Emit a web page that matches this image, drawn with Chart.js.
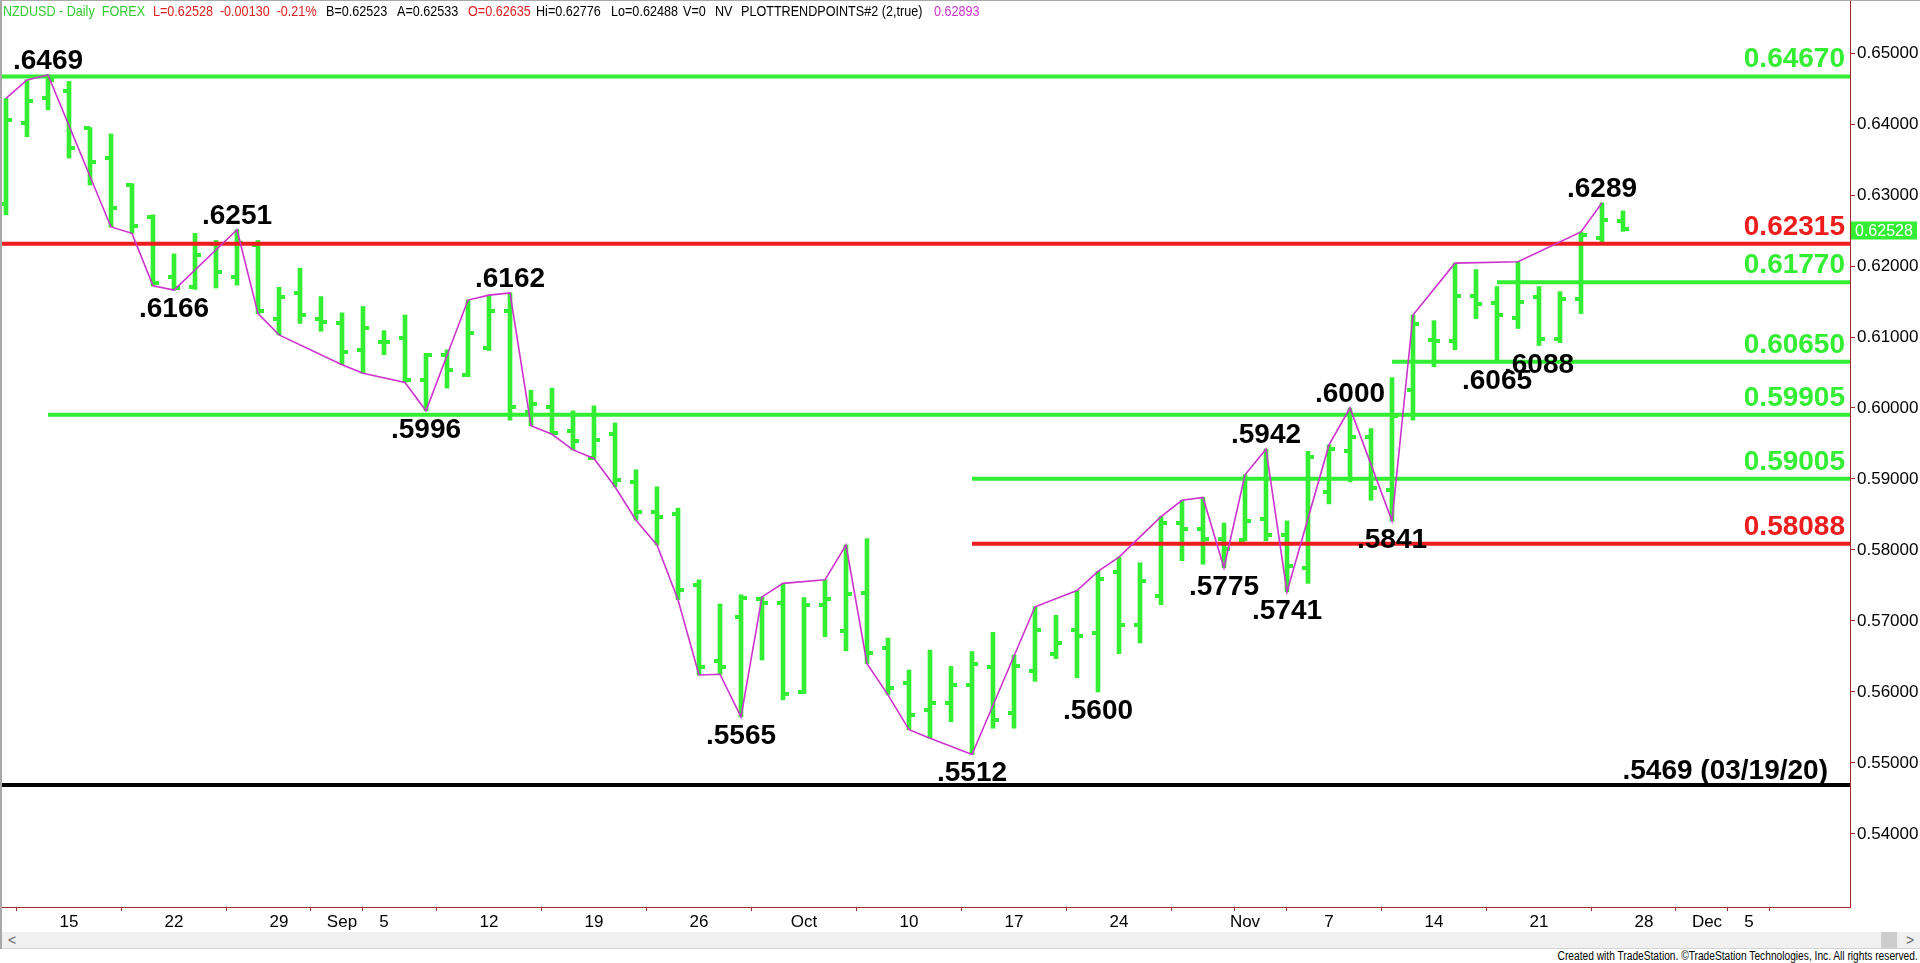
<!DOCTYPE html>
<html>
<head>
<meta charset="utf-8">
<title>NZDUSD Daily</title>
<script src="https://cdn.jsdelivr.net/npm/chart.js@4.4.1/dist/chart.umd.min.js"></script>
<style>
  html, body { margin: 0; padding: 0; background: #fff; }
  body { width: 1920px; height: 963px; position: relative; overflow: hidden;
         font-family: 'Liberation Sans', Arial, sans-serif; }
  #wrap { position: absolute; left: 0; top: 0; width: 1920px; height: 930px; }
  #frame { position: absolute; left: 0; top: 0; width: 1918px; height: 948px;
           border-left: 2px solid #a8a8a8; border-top: 1px solid #a8a8a8; pointer-events: none; }
  #header { position: absolute; left: 0; top: 2px; height: 18px; font-size: 15px; line-height: 18px; white-space: nowrap; }
  #header span { position: absolute; top: 0; transform: scaleX(0.84); transform-origin: 0 50%; }
  #scroll { position: absolute; left: 2px; top: 932px; width: 1918px; height: 16px; background: #f0f0f0;
            border-bottom: 1px solid #d4d4d4; color: #666; font-size: 14px; line-height: 16px; }
  #scroll .thumb { position: absolute; left: 1879px; top: 0; width: 16px; height: 16px; background: #cdcdcd; }
  #footer { position: absolute; right: 2px; top: 950px; font-size: 12px; line-height: 13px; color: #000;
            white-space: nowrap; transform: scaleX(0.85); transform-origin: 100% 50%; }
</style>
</head>
<body>
<div id="wrap"><canvas id="chart"></canvas></div>
<div id="header">
  <span style="left:3px;color:#33cc33">NZDUSD - Daily&nbsp; FOREX</span>
  <span style="left:153px;color:#dd2020">L=0.62528&nbsp; -0.00130&nbsp; -0.21%</span>
  <span style="left:326px">B=0.62523</span>
  <span style="left:397px">A=0.62533</span>
  <span style="left:468px;color:#dd2020">O=0.62635</span>
  <span style="left:536px">Hi=0.62776</span>
  <span style="left:611px">Lo=0.62488</span>
  <span style="left:683px">V=0</span>
  <span style="left:715px">NV</span>
  <span style="left:741px">PLOTTRENDPOINTS#2 (2,true)</span>
  <span style="left:934px;color:#cc33cc">0.62893</span>
</div>
<div id="scroll"><span style="position:absolute;left:6px">&lt;</span><div class="thumb"></div><span style="position:absolute;left:1904px">&gt;</span></div>
<div id="footer">Created with TradeStation. ©TradeStation Technologies, Inc. All rights reserved.</div>
<div id="frame"></div>
<script>
// x = trading day counted from Wed 10 Aug 2022 (day 0)
const opens = [0.6288, 0.6401, 0.6436, 0.6446, 0.6394, 0.6352, 0.6314, 0.6269, 0.6185, 0.6171,
  0.6231, 0.6185, 0.6230, 0.6125, 0.6162, 0.6125, 0.6120, 0.6082, 0.6093, 0.6098,
  0.6039, 0.6075, 0.6047, 0.6084, 0.6137, 0.5995, 0.6001, 0.5967, 0.5930, 0.5963,
  0.5896, 0.5853, 0.5850, 0.5751, 0.5643, 0.5706, 0.5731, 0.5725, 0.5600, 0.5723,
  0.5686, 0.5740, 0.5662, 0.5613, 0.5574, 0.5584, 0.5610, 0.5635, 0.5571, 0.5629,
  0.5653, 0.5687, 0.5683, 0.5769, 0.5695, 0.5735, 0.5838, 0.5829, 0.5815, 0.5814,
  0.5843, 0.5821, 0.5774, 0.5881, 0.5939, 0.5959, 0.5885, 0.6026, 0.6096, 0.6095,
  0.6158, 0.6148, 0.6127, 0.6157, 0.6097, 0.6153, 0.6240, 0.62635];
const highs = [0.6436, 0.6462, 0.6469, 0.6460, 0.6395, 0.6386, 0.6316, 0.6272, 0.6217, 0.6246,
  0.6236, 0.6251, 0.6236, 0.6170, 0.6197, 0.6157, 0.6134, 0.6143, 0.6109, 0.6131,
  0.6077, 0.6082, 0.6152, 0.6159, 0.6162, 0.6025, 0.6028, 0.5996, 0.6003, 0.5979,
  0.5913, 0.5889, 0.5859, 0.5758, 0.5724, 0.5737, 0.5734, 0.5753, 0.5733, 0.5758,
  0.5807, 0.5816, 0.5676, 0.5631, 0.5659, 0.5636, 0.5657, 0.5684, 0.5652, 0.5720,
  0.5708, 0.5743, 0.5770, 0.5790, 0.5782, 0.5847, 0.5870, 0.5874, 0.5838, 0.5906,
  0.5942, 0.5841, 0.5939, 0.5948, 0.6000, 0.5971, 0.6043, 0.6131, 0.6123, 0.6204,
  0.6195, 0.6171, 0.6206, 0.6171, 0.6164, 0.6248, 0.6289, 0.62776];
const lows = [0.6272, 0.6382, 0.6420, 0.6352, 0.6314, 0.6255, 0.6246, 0.6172, 0.6166, 0.6167,
  0.6169, 0.6173, 0.6133, 0.6103, 0.6119, 0.6108, 0.6061, 0.6049, 0.6075, 0.6036,
  0.5996, 0.6028, 0.6044, 0.6081, 0.5983, 0.5975, 0.5963, 0.5941, 0.5929, 0.5889,
  0.5842, 0.5807, 0.5730, 0.5624, 0.5625, 0.5565, 0.5645, 0.5589, 0.5598, 0.5678,
  0.5658, 0.5640, 0.5596, 0.5547, 0.5535, 0.5558, 0.5512, 0.5549, 0.5549, 0.5615,
  0.5647, 0.5620, 0.5600, 0.5654, 0.5669, 0.5723, 0.5785, 0.5780, 0.5775, 0.5813,
  0.5813, 0.5741, 0.5753, 0.5865, 0.5896, 0.5870, 0.5841, 0.5983, 0.6058, 0.6082,
  0.6126, 0.6065, 0.6112, 0.6088, 0.6092, 0.6133, 0.6234, 0.62488];
const closes = [0.6406, 0.6432, 0.6462, 0.6366, 0.6346, 0.6281, 0.6256, 0.6176, 0.6169, 0.6215,
  0.6191, 0.6232, 0.6136, 0.6157, 0.6131, 0.6121, 0.6079, 0.6113, 0.6093, 0.6040,
  0.6075, 0.6054, 0.6105, 0.6137, 0.6002, 0.6006, 0.5965, 0.5953, 0.5955, 0.5898,
  0.5853, 0.5846, 0.5744, 0.5635, 0.5635, 0.5732, 0.5725, 0.5597, 0.5723, 0.5731,
  0.5738, 0.5655, 0.5605, 0.5567, 0.5584, 0.5610, 0.5640, 0.5560, 0.5637, 0.5688,
  0.5669, 0.5679, 0.5759, 0.5695, 0.5757, 0.5838, 0.5829, 0.5815, 0.5801, 0.5841,
  0.5821, 0.5777, 0.5931, 0.5942, 0.5959, 0.5887, 0.5989, 0.6119, 0.6095, 0.6158,
  0.6147, 0.6131, 0.6150, 0.6097, 0.6153, 0.6244, 0.6265, 0.62528];

// PLOTTRENDPOINTS zigzag vertices
const trendDays = [0, 1, 2, 5, 6, 7, 8, 11, 12, 13, 16, 17, 19, 20, 22, 23, 24, 25, 26, 27, 28, 29, 30, 31,
  32, 33, 34, 35, 36, 37, 39, 40, 41, 42, 43, 44, 46, 49, 51, 52, 53, 55, 56, 57, 58, 59, 60, 61,
  63, 64, 66, 67, 69, 72, 75, 76];
const trendValues = [0.6436, 0.6462, 0.6469, 0.6255, 0.6246, 0.6172, 0.6166, 0.6251, 0.6133, 0.6103,
  0.6061, 0.6049, 0.6036, 0.5996, 0.6152, 0.6159, 0.6162, 0.5975, 0.5963, 0.5941, 0.5929, 0.5889,
  0.5842, 0.5807, 0.5730, 0.5624, 0.5625, 0.5565, 0.5734, 0.5753, 0.5758, 0.5807, 0.5640, 0.5596,
  0.5547, 0.5535, 0.5512, 0.5720, 0.5743, 0.5770, 0.5790, 0.5847, 0.5870, 0.5874, 0.5775, 0.5906,
  0.5942, 0.5741, 0.5948, 0.6000, 0.5841, 0.6131, 0.6204, 0.6206, 0.6248, 0.6289];

// swing labels
const pivotDays = [2, 8, 11, 20, 24, 35, 46, 52, 58, 60, 61, 64, 66, 71, 73, 76];
const pivotValues = [0.6469, 0.6166, 0.6251, 0.5996, 0.6162, 0.5565, 0.5512, 0.5600, 0.5775, 0.5942,
  0.5741, 0.6000, 0.5841, 0.6065, 0.6088, 0.6289];
const pivotIsHigh = [true, false, true, false, true, false, false, false, false, true,
  false, true, false, false, false, true];

// horizontal levels, start day null = from left edge
const levelValues = [0.64670, 0.62315, 0.61770, 0.60650, 0.59905, 0.59005, 0.58088];
const levelStartDays = [null, null, 71, 66, 2, 46, 46];
const supportValue = 0.5469;
const supportLabel = '.5469 (03/19/20)';

const xTickDays = [3, 8, 13, 16, 18, 23, 28, 33, 38, 43, 48, 53, 58, 59, 63, 68, 73, 78, 81, 83];
const xTickLabels = ['15', '22', '29', 'Sep', '5', '12', '19', '26', 'Oct', '10', '17', '24', '',
  'Nov', '7', '14', '21', '28', 'Dec', '5'];
const yTicks = [0.54, 0.55, 0.56, 0.57, 0.58, 0.59, 0.60, 0.61, 0.62, 0.63, 0.64, 0.65];

const GREEN = '#33ee33';
const RED = '#ee1c1c';
const levelColors = [GREEN, RED, GREEN, GREEN, GREEN, GREEN, RED];
const AXIS = '#a52a2a';
const FONT = "'Liberation Sans', Arial, sans-serif";
const X_MIN = -0.2857, X_MAX = 87.81;

// little canvases used as point styles for open (left) and close (right) ticks
function tickImage(leftSide) {
  const c = document.createElement('canvas');
  c.width = 12; c.height = 4;
  const g = c.getContext('2d');
  g.fillStyle = GREEN;
  g.fillRect(leftSide ? 0 : 6, 0, 6, 4);
  return c;
}

const days = opens.map((_, i) => i);

const datasets = [
  {
    type: 'bar',
    data: days.map(i => ({ x: i, y: [lows[i], highs[i]] })),
    backgroundColor: GREEN,
    borderWidth: 0,
    barThickness: 4,
    order: 5
  },
  {
    type: 'scatter',
    data: days.map(i => ({ x: i, y: opens[i] })),
    pointStyle: tickImage(true),
    pointRadius: 6,
    order: 4
  },
  {
    type: 'scatter',
    data: days.map(i => ({ x: i, y: closes[i] })),
    pointStyle: tickImage(false),
    pointRadius: 6,
    order: 4
  }
];

levelValues.forEach((v, i) => {
  datasets.push({
    type: 'line',
    data: [{ x: levelStartDays[i] === null ? X_MIN : levelStartDays[i], y: v }, { x: X_MAX, y: v }],
    borderColor: levelColors[i],
    borderWidth: 4,
    pointRadius: 0,
    order: 2
  });
});

datasets.push({
  type: 'line',
  data: [{ x: X_MIN, y: supportValue }, { x: X_MAX, y: supportValue }],
  borderColor: '#000',
  borderWidth: 4,
  pointRadius: 0,
  order: 2
});

datasets.push({
  type: 'line',
  data: trendDays.map((d, i) => ({ x: d, y: trendValues[i] })),
  borderColor: '#cc33cc',
  borderWidth: 1.6,
  pointRadius: 0,
  tension: 0,
  order: 1
});

const annotations = {
  id: 'annotations',
  afterDatasetsDraw(chart) {
    const { ctx, chartArea } = chart;
    const x = chart.scales.x, y = chart.scales.y;
    ctx.save();
    ctx.font = 'bold 28px ' + FONT;
    ctx.textBaseline = 'alphabetic';

    // swing point labels
    ctx.fillStyle = '#000';
    ctx.textAlign = 'center';
    pivotDays.forEach((d, i) => {
      const px = x.getPixelForValue(d);
      const py = y.getPixelForValue(pivotValues[i]);
      const text = '.' + pivotValues[i].toFixed(4).slice(2);
      ctx.fillText(text, px, pivotIsHigh[i] ? py - 6 : py + 27);
    });

    // level labels on the right
    ctx.textAlign = 'right';
    levelValues.forEach((v, i) => {
      ctx.fillStyle = levelColors[i];
      ctx.fillText(v.toFixed(5), chartArea.right - 5, y.getPixelForValue(v) - 9);
    });
    ctx.fillStyle = '#000';
    ctx.fillText(supportLabel, chartArea.right - 22, y.getPixelForValue(supportValue) - 6);

    // last price marker on the axis
    const last = closes[closes.length - 1];
    const ly = y.getPixelForValue(last) + 2;
    ctx.fillStyle = GREEN;
    ctx.fillRect(chartArea.right + 1, ly - 9, 66, 18);
    ctx.fillStyle = '#fff';
    ctx.font = '16px ' + FONT;
    ctx.textAlign = 'left';
    ctx.textBaseline = 'middle';
    ctx.fillText(last.toFixed(5), chartArea.right + 5, ly + 1);
    ctx.restore();
  }
};

function noPad(s) {
  s.paddingTop = 0; s.paddingBottom = 0; s.paddingLeft = 0; s.paddingRight = 0;
}

new Chart(document.getElementById('chart'), {
  type: 'bar',
  data: { datasets },
  options: {
    responsive: true,
    maintainAspectRatio: false,
    animation: false,
    events: [],
    layout: { padding: 0, autoPadding: false },
    plugins: { legend: { display: false }, tooltip: { enabled: false } },
    scales: {
      x: {
        type: 'linear',
        min: X_MIN,
        max: X_MAX,
        offset: false,
        afterBuildTicks: s => { s.ticks = xTickDays.map(v => ({ value: v })); },
        afterFit: s => { s.height = 23; noPad(s); },
        ticks: {
          autoSkip: false,
          maxRotation: 0,
          padding: 1,
          color: '#000',
          font: { family: FONT, size: 17 },
          callback: (v, i) => xTickLabels[i]
        },
        grid: { drawOnChartArea: false, drawTicks: true, tickLength: 4, tickColor: AXIS },
        border: { color: AXIS, width: 1 }
      },
      y: {
        type: 'linear',
        position: 'right',
        min: 0.529718,
        max: 0.657465,
        afterBuildTicks: s => { s.ticks = yTicks.map(v => ({ value: v })); },
        afterFit: s => { s.width = 70; noPad(s); },
        ticks: {
          padding: 2,
          color: '#000',
          font: { family: FONT, size: 17 },
          callback: v => v.toFixed(5)
        },
        grid: { drawOnChartArea: false, drawTicks: true, tickLength: 5, tickColor: AXIS },
        border: { color: AXIS, width: 1 }
      }
    }
  },
  plugins: [annotations]
});
</script>
</body>
</html>
